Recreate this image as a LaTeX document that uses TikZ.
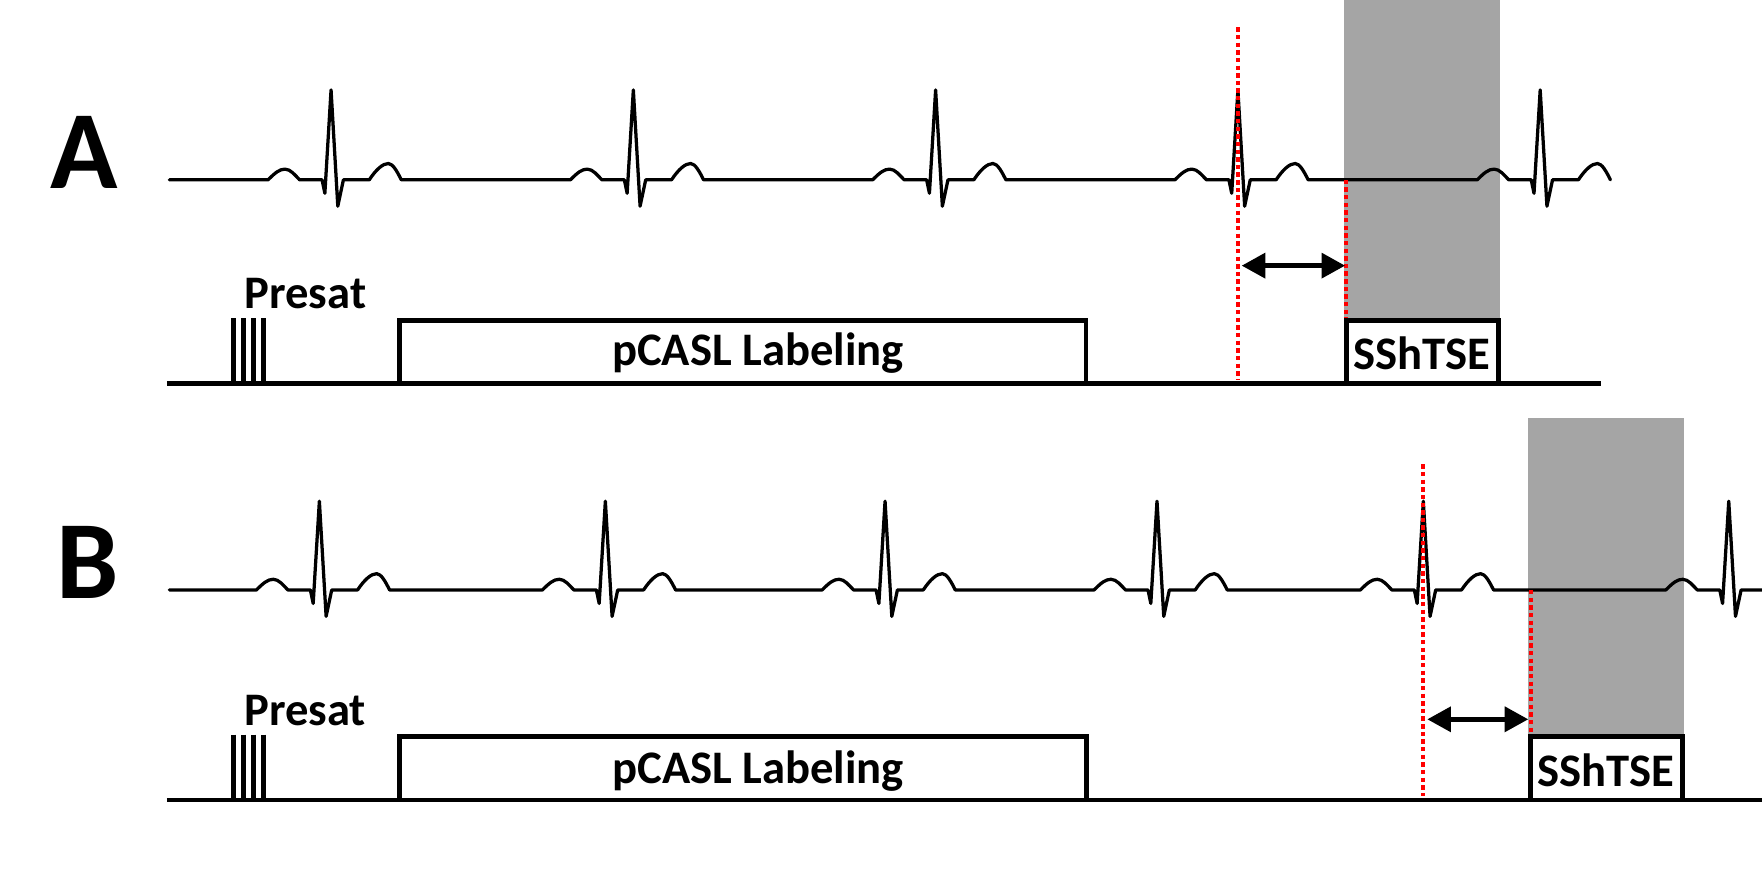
\documentclass[tikz,border=0pt]{standalone}
\usepackage{fontspec}
\setmainfont{Carlito}
\usetikzlibrary{arrows.meta}
\definecolor{readgray}{RGB}{165,165,165}
\begin{document}
\begin{tikzpicture}[x=1pt,y=-1pt,
  ecg/.style={line width=2.9pt, line join=round, line cap=round},
  seqline/.style={line width=4.2pt},
  presatline/.style={line width=4.2pt},
  seqbox/.style={draw, line width=4.1pt, fill=white, inner sep=0pt},
  reddot/.style={red, line width=3.6pt, dash pattern=on 3.9pt off 2.9pt},
  gap/.style={line width=4pt, {Triangle[length=21pt,width=22pt]}-{Triangle[length=21pt,width=22pt]}},
  panel/.style={font=\fontsize{99}{99}\selectfont\bfseries, inner sep=0pt, anchor=base},
  lbl/.style={font=\fontsize{41.5}{41.5}\selectfont\bfseries, inner sep=0pt, anchor=base}
]
\useasboundingbox (0,0) rectangle (1568,794);
\clip (0,0) rectangle (1568,794);

% shaded readout windows
\fill[readgray] (1196,0) rectangle (1335,285);
\fill[readgray] (1360,372) rectangle (1499,655.6);

% ECG A
\def\yo{160}
\draw[ecg] (150.7,\yo) foreach \r in {294.6,563.6,832.6,1101.6,1370.6} {
  -- (\r-56,\yo) .. controls (\r-50,\yo-6) and (\r-46,\yo-9.5) .. (\r-41,\yo-9.5)
  .. controls (\r-36,\yo-9.5) and (\r-32,\yo-4) .. (\r-28,\yo)
  -- (\r-8,\yo) -- (\r-5.5,\yo+12) -- (\r,\yo-80) -- (\r+6,\yo+23.5) -- (\r+11,\yo) -- (\r+34,\yo)
  .. controls (\r+40,\yo-9) and (\r+46,\yo-14.5) .. (\r+51,\yo-14.5)
  .. controls (\r+55,\yo-14.5) and (\r+59,\yo-7) .. (\r+62.5,\yo)
};

% ECG B
\def\yt{525}
\draw[ecg] (150.7,\yt) foreach \r in {284.2,538.7,787.6,1029.6,1266.6,1538.4} {
  -- (\r-56,\yt) .. controls (\r-50,\yt-6) and (\r-46,\yt-9.5) .. (\r-41,\yt-9.5)
  .. controls (\r-36,\yt-9.5) and (\r-32,\yt-4) .. (\r-28,\yt)
  -- (\r-8,\yt) -- (\r-5.5,\yt+12) -- (\r,\yt-79) -- (\r+6,\yt+23.5) -- (\r+11,\yt) -- (\r+34,\yt)
  .. controls (\r+40,\yt-9) and (\r+46,\yt-14.5) .. (\r+51,\yt-14.5)
  .. controls (\r+55,\yt-14.5) and (\r+59,\yt-7) .. (\r+62.5,\yt)
} -- (1620,\yt);

% red dotted markers
\coordinate (rA1t) at (1102,24.3);
\coordinate (rA1b) at (1102,338);
\coordinate (rA2t) at (1198,160);
\coordinate (rA2b) at (1198,283);
\coordinate (rB1t) at (1266.6,413.2);
\coordinate (rB1b) at (1266.6,708);
\coordinate (rB2t) at (1362,525);
\coordinate (rB2b) at (1362,653.5);
\draw[reddot] (rA1t) -- (rA1b);
\draw[reddot] (rA2t) -- (rA2b);
\draw[reddot] (rB1t) -- (rB1b);
\draw[reddot] (rB2t) -- (rB2b);

% sequence boxes
\node[seqbox, minimum width=611pt, minimum height=56pt] (pcaslA) at (660.9,313) {};
\node[seqbox, minimum width=611.6pt, minimum height=56.4pt] (pcaslB) at (661.2,683.8) {};
\node[seqbox, minimum width=135.5pt, minimum height=56pt] (sshA) at (1265.75,313) {};
\node[seqbox, minimum width=135.5pt, minimum height=56.4pt] (sshB) at (1429.75,683.8) {};
\node[lbl] (tpA) at (674.5,325.7) {pCASL Labeling};
\node[lbl] (tpB) at (674.6,697) {pCASL Labeling};
\node[lbl] (tsA) at (1265.2,328.5) {SShTSE};
\node[lbl] (tsB) at (1429.2,699.5) {SShTSE};

% sequence baselines
\coordinate (bAs) at (148.5,341);
\coordinate (bAe) at (1424.5,341);
\coordinate (bBs) at (148.5,712);
\coordinate (bBe) at (1575,712);
\draw[seqline] (bAs) -- (bAe);
\draw[seqline] (bBs) -- (bBe);

% presaturation pulses
\foreach \px in {208,216.5,225.3,234.2} {
  \draw[presatline] (\px,283.3) -- (\px,341);
  \draw[presatline] (\px,653.8) -- (\px,712);
}

% delay arrows
\coordinate (gA1) at (1105,236.4);
\coordinate (gA2) at (1197,236.4);
\coordinate (gB1) at (1270.2,640.1);
\coordinate (gB2) at (1360,640.1);
\draw[gap] (gA1) -- (gA2);
\draw[gap] (gB1) -- (gB2);

% labels
\node[panel] (labA) at (75,167.6) {A};
\node[panel] (labB) at (78,532.5) {B};
\node[lbl] (presA) at (271.8,274.4) {Presat};
\node[lbl] (presB) at (271.5,645.2) {Presat};
\end{tikzpicture}
\end{document}
